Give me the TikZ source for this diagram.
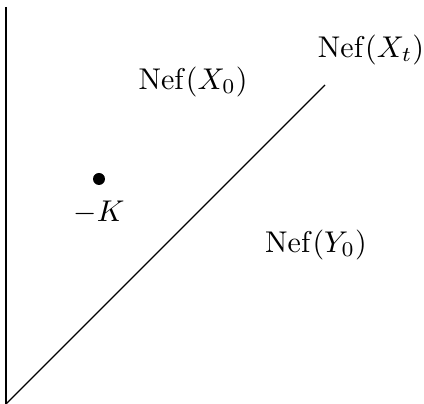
\documentclass[tikz,border=0pt]{standalone}
\begin{document}
\begin{tikzpicture}[
        x=0.35pt, y=-0.35pt,
        every node/.style={inner sep=1pt, scale=1.05},
        wall/.style={line width=0.75pt, black},
        edge/.style={line width=0.4pt, black}
    ]
    \useasboundingbox (0,0) rectangle (424,404);
    \coordinate (top)    at (6,7);
    \coordinate (origin) at (6,404);
    \coordinate (tip)    at (325,85);
    \draw[wall] (top) -- (origin);
    \draw[edge] (origin) -- (tip);
    \node (x0) at (193,82)  {$\mathrm{Nef}(X_0)$};
    \node (xt) at (371,50)  {$\mathrm{Nef}(X_t)$};
    \node (y0) at (316,245) {$\mathrm{Nef}(Y_0)$};
    \fill (99,179) circle (2.1pt);
    \node (k)  at (99,213)  {$-K$};
\end{tikzpicture}
\end{document}
